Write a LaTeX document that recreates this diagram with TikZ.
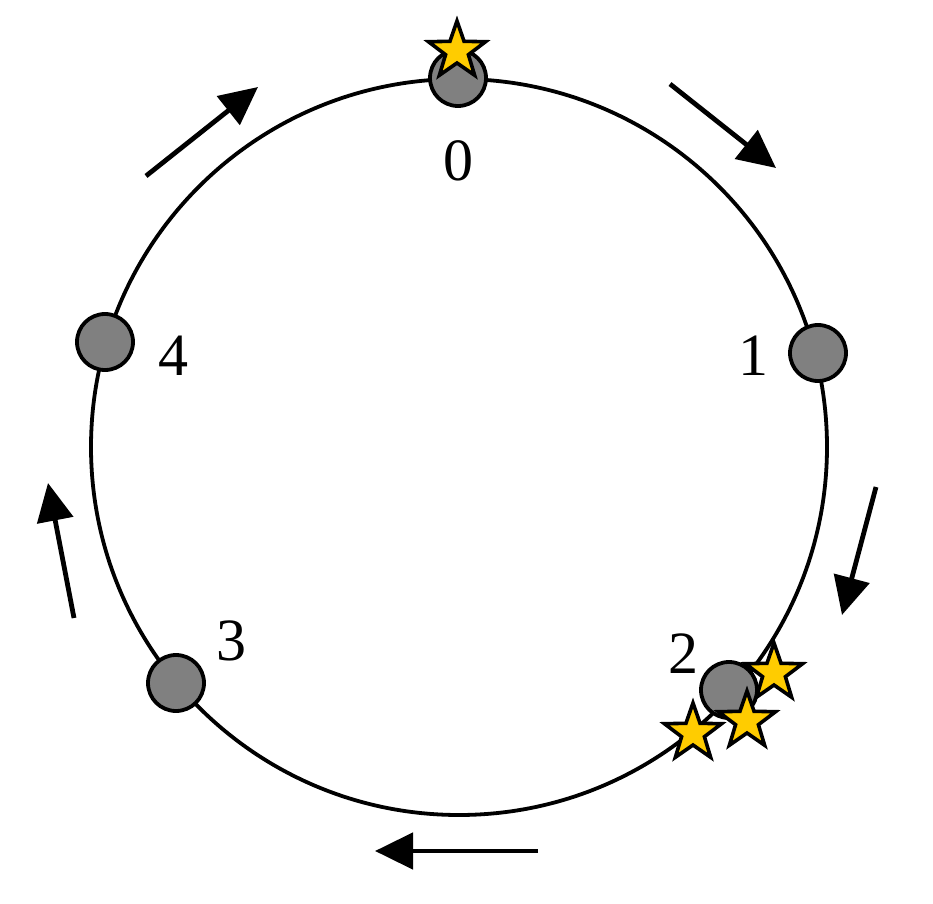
\documentclass[tikz,border=0pt]{standalone}
\usepackage{fontspec}
\setmainfont{Liberation Serif}
\usetikzlibrary{shapes.geometric,arrows.meta}
\definecolor{gold}{HTML}{FFCC00}
\definecolor{nodegray}{HTML}{808080}
\begin{document}
\begin{tikzpicture}[x=0.5pt,y=-0.5pt,
  ring/.style={line width=1.9pt},
  station/.style={circle,draw,line width=1.9pt,fill=nodegray,minimum size=28pt,inner sep=0},
  goldstar/.style={star,star points=5,star point ratio=2.5,draw,line width=1.8pt,fill=gold,minimum size=30pt,inner sep=0},
  lbl/.style={font=\fontsize{30pt}{32pt}\selectfont,inner sep=0},
  dirarrow/.style={line width=2.4pt,-{Triangle[length=19pt,width=18pt]}}]
\useasboundingbox (0,0) rectangle (933,904);
\draw[ring] (459,447) circle [radius=184pt];
% stations
\node[station] (n0) at (458,78) {};
\node[station] (n1) at (818,353) {};
\node[station] (n2) at (729,690) {};
\node[station] (n3) at (176,683) {};
\node[station] (n4) at (105,342) {};
% labels
\node[lbl] (l0) at (458,161) {0};
\node[lbl] (l1) at (753,356) {1};
\node[lbl] (l2) at (683,654) {2};
\node[lbl] (l3) at (231,641) {3};
\node[lbl] (l4) at (173,356) {4};
% stars
\node[goldstar] (s0) at (457,51) {};
\node[goldstar] (s1) at (774,673) {};
\node[goldstar] (s2) at (747,721) {};
\node[goldstar] (s3) at (693,733) {};
% arrows
\coordinate (a1s) at (670,84);  \coordinate (a1e) at (776,168);
\coordinate (a2s) at (876,487); \coordinate (a2e) at (842,615);
\coordinate (a3s) at (538,851); \coordinate (a3e) at (375,851);
\coordinate (a4s) at (74,618);  \coordinate (a4e) at (48,483);
\coordinate (a5s) at (146,176); \coordinate (a5e) at (258,87);
\draw[dirarrow] (a1s) -- (a1e);
\draw[dirarrow] (a2s) -- (a2e);
\draw[dirarrow] (a3s) -- (a3e);
\draw[dirarrow] (a4s) -- (a4e);
\draw[dirarrow] (a5s) -- (a5e);
\end{tikzpicture}
\end{document}
